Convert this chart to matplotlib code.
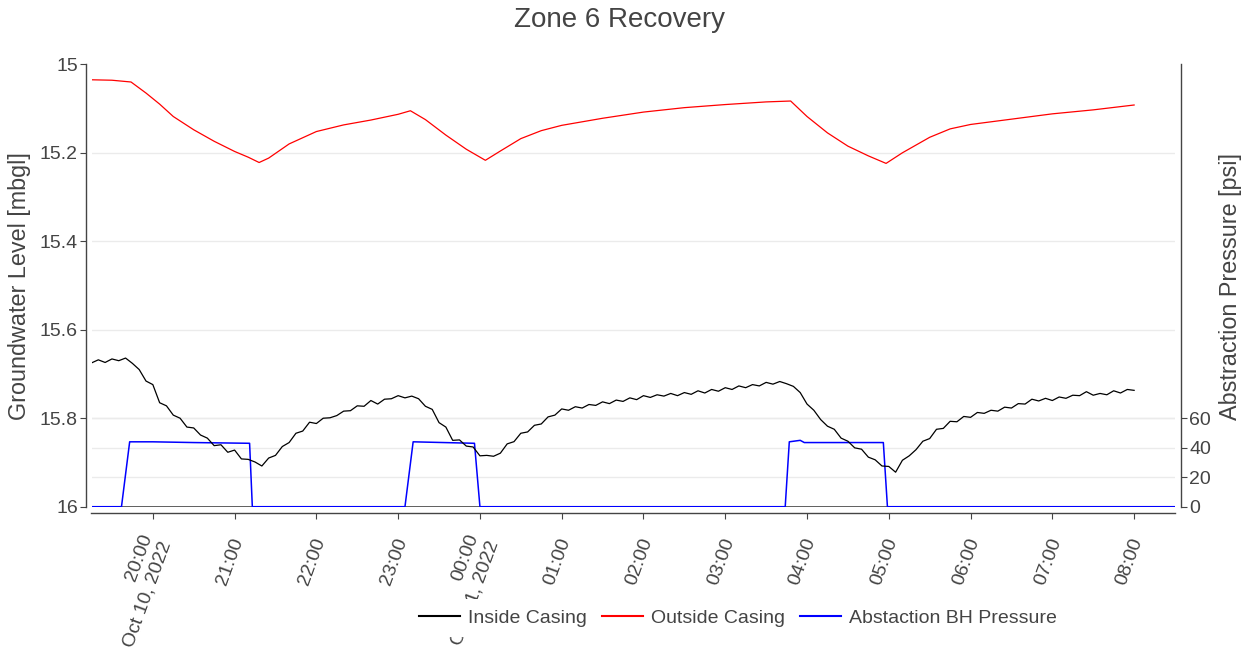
import matplotlib
matplotlib.use("Agg")
import matplotlib.pyplot as plt
import matplotlib.transforms as mtransforms
import pandas as pd

plt.rcParams['font.family'] = ['Liberation Sans', 'DejaVu Sans']

TEXT = '#444444'
GRID = '#ebebeb'

# Inside casing logger, 5 minute readings from 19:15 to 08:00 (mbgl)
inside_start = '2022-10-10 19:15'
inside_level = [
    15.675, 15.668, 15.674, 15.666, 15.670, 15.664, 15.676, 15.690, 15.716, 15.724, 15.765, 15.772,
    15.793, 15.800, 15.820, 15.822, 15.838, 15.845, 15.862, 15.860, 15.877, 15.872, 15.892, 15.893,
    15.899, 15.908, 15.890, 15.884, 15.864, 15.855, 15.834, 15.829, 15.809, 15.812, 15.800, 15.799,
    15.794, 15.784, 15.783, 15.772, 15.773, 15.760, 15.768, 15.757, 15.756, 15.749, 15.754, 15.750,
    15.756, 15.773, 15.780, 15.810, 15.820, 15.850, 15.849, 15.863, 15.865, 15.885, 15.884, 15.886,
    15.879, 15.858, 15.853, 15.834, 15.831, 15.816, 15.813, 15.797, 15.793, 15.779, 15.782, 15.774,
    15.777, 15.769, 15.771, 15.763, 15.767, 15.759, 15.762, 15.754, 15.758, 15.749, 15.753, 15.747,
    15.750, 15.744, 15.749, 15.742, 15.746, 15.738, 15.743, 15.735, 15.739, 15.731, 15.735, 15.727,
    15.731, 15.724, 15.727, 15.719, 15.723, 15.717, 15.722, 15.728, 15.742, 15.768, 15.782, 15.803,
    15.818, 15.825, 15.845, 15.852, 15.867, 15.870, 15.888, 15.894, 15.908, 15.909, 15.922, 15.895,
    15.885, 15.871, 15.852, 15.846, 15.825, 15.823, 15.807, 15.808, 15.796, 15.798, 15.787, 15.789,
    15.782, 15.784, 15.775, 15.777, 15.767, 15.768, 15.757, 15.761, 15.755, 15.760, 15.752, 15.755,
    15.748, 15.749, 15.740, 15.748, 15.744, 15.747, 15.738, 15.743, 15.735, 15.737,
]

# Outside casing (mbgl)
outside_clock = [
    '19:15', '19:30', '19:44', '19:55', '20:05', '20:15', '20:30', '20:45', '21:00', '21:10',
    '21:18', '21:25', '21:40', '22:00', '22:20', '22:40', '23:00', '23:09', '23:20', '23:35',
    '23:50', '00:04', '00:15', '00:30', '00:45', '01:00', '01:30', '02:00', '02:30', '03:00',
    '03:30', '03:48', '04:00', '04:15', '04:30', '04:45', '04:58', '05:10', '05:30', '05:45',
    '06:00', '06:30', '07:00', '07:30', '08:00',
]
outside_level = [
    15.035, 15.036, 15.040, 15.065, 15.090, 15.118, 15.148, 15.174, 15.197, 15.210,
    15.222, 15.212, 15.180, 15.152, 15.137, 15.126, 15.113, 15.105, 15.125, 15.160,
    15.192, 15.217, 15.196, 15.168, 15.150, 15.138, 15.122, 15.108, 15.098, 15.091,
    15.085, 15.083, 15.118, 15.155, 15.185, 15.207, 15.224, 15.200, 15.165, 15.146,
    15.136, 15.124, 15.112, 15.103, 15.092,
]

# Abstraction borehole pressure (psi)
pump_clock = [
    '19:15', '19:37', '19:43', '20:00', '20:30', '21:11', '21:13', '23:05', '23:11', '23:56',
    '00:00', '03:44', '03:47', '03:55', '03:58', '04:56', '04:59', '08:30',
]
pump_psi = [
    0, 0, 44, 44, 43.5, 43, 0, 0, 44, 43,
    0, 0, 44, 45, 43.5, 43.5, 0, 0,
]

level_ticks = [15, 15.2, 15.4, 15.6, 15.8, 16]
level_labels = ['15', '15.2', '15.4', '15.6', '15.8', '16']
psi_ticks = [0, 20, 40, 60]


def clock_times(clock):
    # evening readings belong to 10 Oct, after midnight to 11 Oct
    out = []
    for s in clock:
        day = '2022-10-10' if int(s[:2]) >= 12 else '2022-10-11'
        out.append(pd.Timestamp(f'{day} {s}'))
    return out


inside_times = pd.date_range(inside_start, periods=len(inside_level), freq='5min')
outside_times = clock_times(outside_clock)
pump_times = clock_times(pump_clock)

hours = pd.date_range('2022-10-10 20:00', '2022-10-11 08:00', freq='h')
hour_labels = []
for h in hours:
    if h.hour == 20 or h.hour == 0:
        hour_labels.append(h.strftime('%H:%M') + '\n' + h.strftime('%b ') + str(h.day) + h.strftime(', %Y'))
    else:
        hour_labels.append(h.strftime('%H:%M'))

W, H = 1257, 648
fig = plt.figure(figsize=(W / 100, H / 100), dpi=100)
ax = fig.add_axes([91.5 / W, 141.3 / H, (1175 - 91.5) / W, 442.4 / H])
ax2 = ax.twinx()
ax.set_zorder(ax2.get_zorder() + 1)
ax.patch.set_visible(False)

# pressure axis sits behind and carries all the grid lines
ax2.set_ylim(0, 300)
ax2.set_yticks(psi_ticks)
for v in psi_ticks[1:]:
    ax2.axhline(v, color=GRID, lw=1, zorder=0)
mixed = mtransforms.blended_transform_factory(ax2.transAxes, ax.transData)
for v in level_ticks[1:-1]:
    ax2.plot([0, 1], [v, v], color=GRID, lw=1, transform=mixed, zorder=0)
ax2.grid(axis='x', color=GRID, lw=1)
ax2.set_axisbelow(True)
ax2.axhline(0, color=TEXT, lw=1.2, zorder=1)
p_line, = ax2.plot(pump_times, pump_psi, color='#0000ff', lw=1.1, zorder=2,
                   label='Abstaction BH Pressure')

i_line, = ax.plot(inside_times, inside_level, color='black', lw=0.9, label='Inside Casing')
o_line, = ax.plot(outside_times, outside_level, color='#ff0000', lw=0.9, label='Outside Casing')

ax.set_xlim(pd.Timestamp('2022-10-10 19:15'), pd.Timestamp('2022-10-11 08:30'))
ax.set_ylim(16, 15)
ax.set_yticks(level_ticks)
ax.set_yticklabels(level_labels)

for a in (ax, ax2):
    for s in a.spines.values():
        s.set_visible(False)
    a.tick_params(colors=TEXT, labelcolor=TEXT, labelsize=14, length=4.3, width=0.8)

ax.spines['left'].set_visible(True)
ax.spines['bottom'].set_visible(True)
ax.spines['left'].set_position(('outward', 4))
ax.spines['bottom'].set_position(('outward', 4.3))
ax2.spines['right'].set_visible(True)
ax2.spines['right'].set_position(('outward', 4.3))
for s in (ax.spines['left'], ax.spines['bottom'], ax2.spines['right']):
    s.set_color(TEXT)
    s.set_linewidth(1)

ax.tick_params(axis='y', pad=1.5)
ax2.tick_params(axis='y', pad=1.5)
ax.tick_params(axis='x', pad=14)

# hourly ticks, date shown under the first hour of each day
ax.set_xticks(hours)
ax.set_xticklabels(hour_labels)
nudge = mtransforms.ScaledTranslation(4 / 100, 0, fig.dpi_scale_trans)
for lab in ax.get_xticklabels():
    lab.set_rotation(70)
    lab.set_rotation_mode('anchor')
    lab.set_ha('right')
    lab.set_va('center')
    lab.set_multialignment('right')
    lab.set_linespacing(1.3)
    lab.set_transform(lab.get_transform() + nudge)

fig.text(620 / W, 1 - 20 / H, 'Zone 6 Recovery', fontsize=20, color=TEXT, ha='center', va='center')
fig.text(20 / W, 1 - 286 / H, 'Groundwater Level [mbgl]', fontsize=16.8, color=TEXT,
         rotation=90, ha='center', va='center')
fig.text(1230 / W, 1 - 286 / H, 'Abstraction Pressure [psi]', fontsize=16.8, color=TEXT,
         rotation=90, ha='center', va='center')

leg = fig.legend([i_line, o_line, p_line],
                 ['Inside Casing', 'Outside Casing', 'Abstaction BH Pressure'],
                 loc='center', bbox_to_anchor=(738 / W, 1 - 618 / H), ncol=3,
                 frameon=True, facecolor='white', edgecolor='none', framealpha=1,
                 fancybox=False, fontsize=14, handlelength=2.1, handletextpad=0.4,
                 columnspacing=0.8, borderpad=0.5, labelcolor=TEXT)
for ln in leg.get_lines():
    ln.set_linewidth(1.5)

fig.savefig('out.png', dpi=100, facecolor='white')
